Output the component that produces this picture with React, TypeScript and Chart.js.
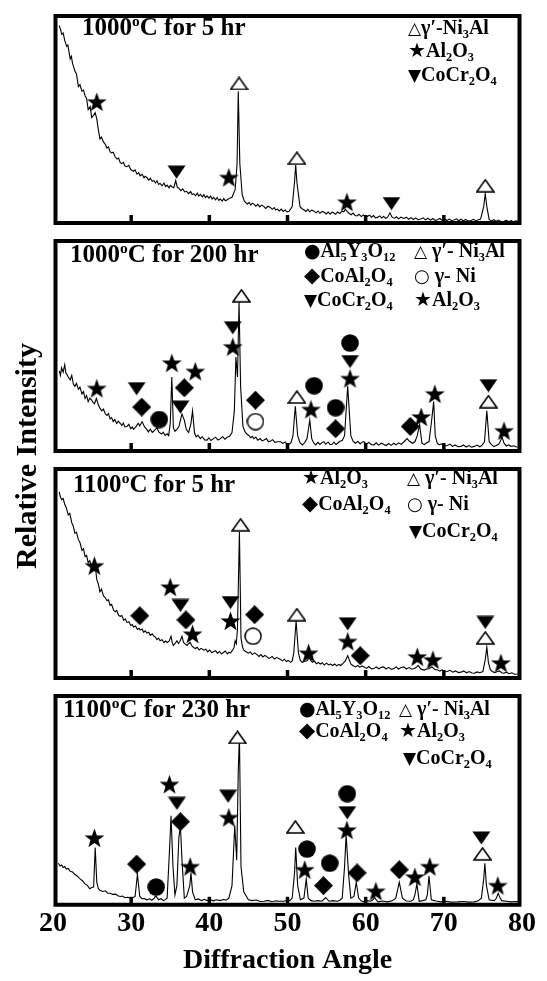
import React, { useEffect, useRef } from 'react';
import { Chart, registerables } from 'chart.js';
Chart.register(...registerables);

// ---------- axis ----------
const xTicks = [20, 30, 40, 50, 60, 70, 80];
const innerTicks = [30, 40, 50, 60, 70];

// ---------- Panel 1: 1000oC for 5 hr  ([angle, relative counts]) ----------
const p1Trace = [[20.8, 95.4], [21.0, 93.0], [21.1, 91.2], [21.3, 91.8], [21.5, 88.2], [21.75, 85.3], [21.9, 86.0], [22.2, 79.3], [22.35, 80.5], [22.5, 77.1], [22.8, 73.4], [23.0, 72.0], [23.25, 65.9], [23.45, 66.8], [23.7, 63.7], [23.9, 64.2], [24.1, 61.5], [24.3, 60.2], [24.5, 54.8], [24.75, 56.3], [24.95, 51.0], [25.2, 52.0], [25.4, 53.3], [25.6, 50.3], [25.8, 45.1], [26.0, 40.6], [26.2, 41.5], [26.45, 39.2], [26.7, 37.9], [26.9, 36.2], [27.1, 36.8], [27.3, 34.5], [27.5, 33.9], [27.7, 34.2], [27.95, 32.0], [28.2, 30.9], [28.4, 31.4], [28.6, 29.2], [28.8, 28.7], [29.0, 29.3], [29.2, 27.5], [29.45, 27.2], [29.7, 27.9], [29.95, 25.8], [30.3, 25.0], [30.5, 25.7], [30.75, 23.6], [30.95, 24.3], [31.15, 22.8], [31.4, 23.5], [31.65, 21.8], [31.8, 22.6], [32.0, 22.0], [32.25, 20.7], [32.45, 21.6], [32.7, 20.1], [32.9, 20.5], [33.1, 19.3], [33.3, 20.4], [33.5, 18.7], [33.7, 19.1], [33.95, 18.0], [34.2, 19.3], [34.4, 17.6], [34.6, 18.3], [34.85, 17.0], [35.0, 18.2], [35.2, 17.5], [35.45, 17.0], [35.7, 20.5], [35.9, 17.2], [36.1, 16.8], [36.35, 15.6], [36.6, 16.5], [36.85, 15.0], [37.1, 15.3], [37.35, 14.2], [37.6, 15.2], [37.8, 13.8], [38.0, 14.1], [38.25, 13.2], [38.45, 14.4], [38.65, 13.0], [38.85, 13.8], [39.1, 12.6], [39.3, 13.7], [39.5, 12.3], [39.7, 13.1], [39.95, 12.0], [40.15, 13.0], [40.35, 11.6], [40.55, 12.4], [40.8, 11.2], [41.0, 12.3], [41.2, 10.9], [41.4, 11.6], [41.65, 10.6], [41.85, 11.8], [42.05, 10.7], [42.3, 11.2], [42.6, 12.0], [42.9, 12.4], [43.3, 16.1], [43.55, 28.7], [43.7, 63.7], [43.9, 28.7], [44.2, 13.8], [44.45, 10.8], [44.6, 10.1], [44.85, 9.2], [45.1, 9.9], [45.3, 8.7], [45.5, 9.6], [45.7, 9.1], [45.95, 8.1], [46.2, 9.0], [46.45, 7.8], [46.7, 8.6], [47.0, 7.9], [47.2, 7.0], [47.5, 8.1], [47.8, 7.5], [48.05, 6.6], [48.3, 7.4], [48.5, 6.3], [48.7, 6.7], [48.95, 5.8], [49.2, 6.7], [49.45, 5.6], [49.7, 6.3], [49.95, 5.4], [50.2, 5.7], [50.6, 7.9], [50.9, 19.8], [51.05, 28.0], [51.2, 19.8], [51.6, 7.9], [51.85, 6.9], [52.1, 6.4], [52.35, 5.6], [52.6, 6.6], [52.85, 5.4], [53.1, 6.2], [53.4, 5.7], [53.65, 4.9], [53.9, 5.8], [54.15, 4.7], [54.45, 5.6], [54.7, 5.2], [54.95, 4.4], [55.2, 5.3], [55.45, 4.3], [55.7, 5.2], [55.9, 4.9], [56.15, 4.2], [56.4, 5.3], [56.7, 4.6], [57.0, 5.7], [57.2, 5.4], [57.4, 6.7], [57.65, 5.5], [57.9, 4.6], [58.15, 4.0], [58.4, 4.8], [58.65, 3.6], [58.9, 3.4], [59.15, 4.2], [59.45, 3.1], [59.7, 3.9], [59.95, 2.9], [60.2, 3.1], [60.5, 3.8], [60.75, 2.8], [61.0, 3.6], [61.25, 2.5], [61.5, 2.7], [61.8, 3.4], [62.05, 2.4], [62.3, 3.2], [62.55, 2.3], [62.8, 2.7], [63.1, 4.9], [63.4, 2.7], [63.7, 2.3], [63.95, 3.0], [64.2, 2.0], [64.5, 2.8], [64.9, 2.2], [65.2, 2.8], [65.5, 1.8], [65.8, 2.6], [66.1, 1.7], [66.4, 2.5], [66.7, 1.6], [67.05, 1.9], [67.35, 2.5], [67.65, 1.5], [67.95, 2.3], [68.3, 1.4], [68.6, 2.2], [68.9, 1.3], [69.2, 1.6], [69.5, 2.2], [69.8, 1.3], [70.1, 2.0], [70.4, 1.2], [70.7, 1.9], [71.0, 1.1], [71.3, 1.5], [71.6, 2.0], [71.9, 1.1], [72.2, 1.8], [72.5, 1.0], [72.8, 1.7], [73.1, 1.0], [73.5, 1.2], [73.8, 1.8], [74.1, 1.0], [74.4, 1.6], [74.7, 1.9], [75.1, 7.9], [75.3, 14.2], [75.5, 7.9], [75.8, 1.6], [76.1, 1.0], [76.4, 1.6], [76.7, 0.8], [77.0, 1.4], [77.3, 0.7], [77.7, 0.8], [78.0, 1.3], [78.3, 0.6], [78.6, 1.2], [78.9, 0.6], [79.2, 1.1], [79.4, 0.8], [79.7, 0.9]];
const p1Ni3Al = [[43.8, 67.4], [51.2, 31.3], [75.3, 18.0]];
const p1Al2O3 = [[25.6, 58.5], [42.5, 22.0], [57.6, 10.1]];
const p1CoCr2O4 = [[35.8, 24.6], [63.3, 9.4]];

// ---------- Panel 2: 1000oC for 200 hr ----------
const p2Trace = [[20.8, 38.2], [20.95, 36.0], [21.1, 39.6], [21.3, 37.5], [21.5, 41.1], [21.65, 37.0], [21.75, 36.7], [21.95, 35.2], [22.2, 33.8], [22.4, 36.0], [22.6, 31.9], [22.8, 30.8], [23.0, 32.2], [23.25, 29.4], [23.45, 30.5], [23.7, 27.2], [23.9, 28.3], [24.1, 25.0], [24.3, 26.4], [24.5, 23.5], [24.7, 25.1], [24.95, 24.2], [25.15, 23.0], [25.3, 22.5], [25.55, 25.0], [25.8, 22.0], [26.0, 20.4], [26.25, 19.1], [26.45, 20.0], [26.7, 17.6], [26.9, 16.9], [27.1, 17.8], [27.3, 15.3], [27.5, 15.9], [27.7, 14.0], [27.9, 15.0], [28.15, 13.1], [28.35, 14.2], [28.6, 13.2], [28.8, 12.1], [29.0, 13.3], [29.2, 11.5], [29.45, 11.7], [29.7, 12.7], [29.95, 10.6], [30.15, 11.4], [30.3, 10.3], [30.6, 11.5], [30.9, 13.2], [31.1, 12.0], [31.4, 14.0], [31.7, 11.6], [32.0, 10.3], [32.2, 9.1], [32.45, 10.4], [32.7, 8.9], [32.9, 9.5], [33.1, 10.3], [33.3, 11.0], [33.55, 9.0], [33.9, 8.1], [34.1, 9.0], [34.35, 7.4], [34.6, 8.2], [34.8, 7.3], [35.0, 13.2], [35.2, 35.2], [35.4, 11.0], [35.6, 9.4], [35.85, 10.3], [36.1, 11.5], [36.3, 14.7], [36.5, 17.6], [36.8, 14.7], [37.05, 10.3], [37.35, 8.8], [37.65, 13.2], [37.85, 19.1], [38.1, 8.8], [38.3, 6.7], [38.55, 7.5], [38.85, 5.9], [39.1, 6.8], [39.4, 5.3], [39.7, 5.2], [39.95, 6.3], [40.2, 5.0], [40.55, 5.9], [40.8, 6.6], [41.1, 5.2], [41.4, 5.9], [41.7, 6.8], [42.0, 5.6], [42.3, 6.6], [42.6, 7.0], [42.9, 8.8], [43.2, 19.1], [43.4, 44.8], [43.6, 35.2], [43.8, 71.2], [44.0, 30.8], [44.3, 11.7], [44.55, 9.2], [44.8, 8.1], [45.05, 7.4], [45.3, 6.3], [45.5, 7.0], [45.7, 5.9], [45.95, 6.6], [46.2, 5.1], [46.5, 5.9], [46.75, 4.8], [47.0, 5.2], [47.3, 5.9], [47.55, 4.5], [47.8, 4.6], [48.1, 5.4], [48.4, 4.1], [48.7, 4.4], [49.1, 4.4], [49.4, 3.6], [49.7, 4.3], [49.95, 3.3], [50.2, 3.2], [50.45, 4.0], [50.7, 7.3], [51.0, 21.3], [51.3, 7.3], [51.6, 4.0], [51.9, 2.9], [52.2, 4.0], [52.5, 5.9], [52.85, 14.7], [53.1, 5.9], [53.35, 3.8], [53.6, 2.9], [53.9, 4.1], [54.15, 3.1], [54.4, 4.0], [54.65, 4.4], [54.9, 3.2], [55.2, 4.3], [55.45, 3.0], [55.7, 3.2], [55.95, 4.2], [56.2, 3.1], [56.4, 3.7], [56.7, 4.6], [57.0, 5.0], [57.3, 7.3], [57.7, 30.8], [58.1, 7.3], [58.4, 4.6], [58.7, 3.7], [59.0, 4.6], [59.3, 3.4], [59.55, 4.3], [59.8, 4.4], [60.1, 3.2], [60.4, 4.1], [60.75, 3.0], [61.05, 2.9], [61.35, 3.9], [61.65, 2.8], [62.0, 3.7], [62.3, 3.2], [62.6, 2.6], [62.95, 3.6], [63.25, 2.7], [63.6, 3.7], [63.9, 2.9], [64.2, 3.9], [64.55, 3.2], [64.9, 4.4], [65.3, 5.9], [65.6, 4.6], [66.0, 3.7], [66.3, 4.4], [66.6, 7.3], [66.9, 12.5], [67.2, 3.7], [67.5, 3.0], [67.8, 3.9], [68.1, 4.4], [68.4, 13.2], [68.7, 23.5], [68.9, 7.3], [69.15, 3.8], [69.4, 2.9], [69.7, 3.4], [70.0, 2.4], [70.45, 2.6], [70.8, 3.3], [71.1, 2.2], [71.45, 2.9], [71.8, 2.0], [72.2, 2.2], [72.5, 2.9], [72.85, 1.9], [73.2, 2.6], [73.55, 1.8], [73.9, 2.2], [74.25, 2.8], [74.6, 2.0], [74.9, 2.8], [75.2, 4.4], [75.5, 19.1], [75.8, 4.4], [76.1, 3.0], [76.4, 2.1], [76.7, 2.6], [77.0, 3.2], [77.2, 4.4], [77.45, 6.6], [77.7, 3.7], [78.0, 2.4], [78.3, 2.9], [78.6, 2.2], [78.95, 2.5], [79.3, 1.9], [79.7, 1.8]];
const p2Al5Y3O12 = [[33.6, 15.0], [53.4, 31.1], [56.15, 20.6], [58.0, 51.4]];
const p2CoAl2O4 = [[31.35, 20.9], [36.8, 30.1], [45.9, 24.2], [56.15, 10.6], [65.7, 11.7]];
const p2CoCr2O4 = [[30.7, 29.7], [36.3, 20.9], [43.0, 58.7], [58.0, 42.6], [75.7, 31.1]];
const p2Ni3Al = [[44.1, 73.9], [51.2, 25.7], [75.7, 23.5]];
const p2Ni = [[45.9, 14.0]];
const p2Al2O3 = [[25.6, 29.8], [35.2, 41.9], [38.2, 37.9], [43.0, 49.6], [53.0, 19.8], [58.0, 34.5], [67.1, 16.2], [68.85, 27.2], [77.7, 9.6]];

// ---------- Panel 3: 1100oC for 5 hr ----------
const p3Trace = [[20.8, 89.0], [20.95, 86.6], [21.1, 85.3], [21.3, 85.9], [21.5, 83.1], [21.7, 81.5], [21.95, 78.0], [22.15, 78.8], [22.4, 74.3], [22.6, 72.6], [22.8, 69.2], [23.0, 69.8], [23.25, 66.2], [23.45, 64.8], [23.7, 61.1], [23.9, 61.9], [24.1, 58.1], [24.3, 58.6], [24.5, 55.2], [24.7, 56.1], [24.95, 53.0], [25.15, 54.0], [25.3, 51.5], [25.45, 52.3], [25.6, 47.1], [25.8, 45.0], [26.0, 41.3], [26.2, 42.5], [26.45, 39.4], [26.7, 38.3], [26.9, 37.1], [27.1, 37.4], [27.3, 34.7], [27.5, 35.2], [27.75, 32.4], [27.95, 31.7], [28.15, 32.3], [28.4, 30.0], [28.6, 29.5], [28.8, 29.9], [29.05, 27.6], [29.25, 28.3], [29.45, 26.6], [29.7, 26.9], [29.95, 25.1], [30.15, 25.6], [30.3, 24.4], [30.55, 24.9], [30.8, 23.2], [31.0, 23.8], [31.15, 22.9], [31.4, 23.4], [31.6, 21.9], [31.8, 22.6], [32.0, 21.5], [32.25, 21.9], [32.45, 20.4], [32.7, 21.1], [32.9, 20.0], [33.1, 19.5], [33.3, 18.4], [33.5, 19.1], [33.7, 17.8], [33.95, 18.3], [34.2, 16.9], [34.4, 17.7], [34.6, 17.0], [34.85, 17.6], [35.1, 20.0], [35.25, 17.0], [35.4, 15.6], [35.6, 16.4], [35.85, 17.8], [36.05, 16.5], [36.25, 17.6], [36.5, 20.0], [36.7, 17.0], [36.9, 16.3], [37.15, 15.6], [37.35, 16.4], [37.55, 17.0], [37.8, 15.2], [38.0, 14.6], [38.2, 14.1], [38.45, 14.7], [38.7, 13.4], [38.95, 14.2], [39.3, 13.3], [39.55, 13.8], [39.8, 12.5], [40.05, 13.4], [40.3, 12.2], [40.55, 12.6], [40.8, 13.1], [41.05, 11.8], [41.3, 12.7], [41.55, 11.6], [41.8, 12.2], [42.05, 12.9], [42.3, 11.5], [42.5, 12.3], [42.7, 11.9], [42.95, 13.2], [43.15, 14.5], [43.3, 17.8], [43.45, 16.4], [43.6, 23.7], [43.85, 69.9], [44.05, 19.2], [44.25, 14.8], [44.4, 13.3], [44.7, 12.6], [45.0, 11.9], [45.25, 12.5], [45.5, 11.2], [45.8, 12.0], [46.1, 11.2], [46.35, 10.3], [46.6, 11.2], [46.85, 10.1], [47.1, 10.8], [47.4, 10.1], [47.6, 9.4], [47.8, 9.7], [48.05, 10.3], [48.3, 9.1], [48.6, 9.8], [48.9, 9.3], [49.1, 8.9], [49.35, 8.2], [49.6, 9.0], [49.85, 7.9], [50.1, 8.4], [50.4, 7.5], [50.6, 8.2], [50.8, 11.9], [51.1, 27.3], [51.4, 11.9], [51.65, 8.3], [51.9, 7.5], [52.2, 8.0], [52.5, 8.2], [52.8, 9.7], [53.0, 8.3], [53.2, 7.5], [53.45, 8.1], [53.7, 6.8], [53.95, 7.4], [54.2, 6.7], [54.45, 7.3], [54.7, 6.2], [55.0, 7.1], [55.25, 6.3], [55.5, 6.7], [55.8, 6.0], [56.05, 6.7], [56.3, 5.8], [56.55, 6.5], [56.8, 6.0], [57.1, 7.0], [57.4, 8.2], [57.7, 10.7], [58.1, 6.7], [58.4, 5.9], [58.7, 5.3], [59.0, 6.0], [59.25, 5.1], [59.5, 5.8], [59.8, 5.3], [60.1, 4.6], [60.4, 5.5], [60.75, 4.3], [61.05, 4.5], [61.35, 5.3], [61.7, 4.4], [62.0, 5.1], [62.3, 5.3], [62.6, 4.3], [62.95, 5.1], [63.3, 4.1], [63.6, 4.5], [63.9, 5.3], [64.2, 4.3], [64.55, 5.0], [64.9, 5.3], [65.2, 4.3], [65.55, 5.0], [65.9, 4.2], [66.2, 4.5], [66.45, 5.0], [66.7, 6.0], [67.0, 4.5], [67.25, 4.0], [67.5, 3.8], [67.8, 4.3], [68.1, 4.4], [68.3, 4.9], [68.5, 5.3], [68.8, 4.2], [69.2, 3.8], [69.5, 3.3], [69.8, 3.9], [70.1, 3.0], [70.45, 3.1], [70.8, 3.7], [71.15, 2.8], [71.5, 3.4], [71.85, 2.6], [72.2, 2.8], [72.55, 3.4], [72.9, 2.5], [73.25, 3.1], [73.6, 2.4], [73.9, 2.3], [74.25, 2.9], [74.6, 2.5], [75.0, 3.1], [75.3, 8.9], [75.5, 14.8], [75.7, 7.5], [75.95, 4.0], [76.2, 3.1], [76.5, 2.6], [76.8, 3.0], [77.1, 3.4], [77.4, 2.5], [77.7, 2.3], [78.0, 2.8], [78.35, 2.0], [78.7, 2.5], [79.05, 1.8], [79.4, 1.9], [79.7, 2.1]];
const p3Al2O3 = [[25.3, 53.7], [35.0, 43.5], [37.85, 21.0], [42.7, 27.3], [52.7, 11.9], [57.7, 17.5], [66.6, 10.1], [68.6, 8.7], [77.3, 7.2]];
const p3CoAl2O4 = [[31.1, 29.8], [37.0, 27.8], [45.8, 30.3], [59.3, 10.7]];
const p3CoCr2O4 = [[36.3, 34.7], [42.7, 36.1], [57.7, 25.9], [75.3, 26.6]];
const p3Ni3Al = [[44.0, 73.3], [51.2, 30.3], [75.3, 19.2]];
const p3Ni = [[45.6, 20.0]];

// ---------- Panel 4: 1100oC for 230 hr ----------
const p4Trace = [[20.7, 19.9], [20.9, 18.6], [21.1, 19.1], [21.3, 17.9], [21.5, 18.3], [21.7, 17.1], [21.95, 17.4], [22.2, 16.0], [22.5, 15.7], [22.8, 14.5], [23.1, 13.8], [23.3, 13.0], [23.5, 12.3], [23.8, 11.4], [24.1, 10.0], [24.4, 9.3], [24.7, 7.7], [24.95, 8.3], [25.2, 8.5], [25.4, 27.4], [25.6, 10.8], [25.8, 7.8], [26.0, 7.0], [26.35, 6.4], [26.7, 6.7], [27.0, 5.6], [27.3, 5.5], [27.65, 5.0], [28.0, 5.1], [28.3, 4.3], [28.6, 4.0], [28.9, 4.2], [29.2, 3.4], [29.55, 3.6], [29.9, 3.2], [30.2, 3.4], [30.5, 4.0], [30.8, 14.5], [31.1, 4.0], [31.4, 2.9], [31.7, 3.0], [32.0, 2.4], [32.35, 2.9], [32.65, 2.2], [32.95, 3.2], [33.15, 4.4], [33.5, 2.4], [33.8, 2.9], [34.15, 2.0], [34.4, 2.6], [34.6, 3.2], [34.9, 25.9], [35.1, 42.6], [35.35, 18.3], [35.6, 4.7], [35.85, 9.2], [36.1, 32.0], [36.3, 38.0], [36.5, 21.4], [36.8, 3.2], [37.1, 4.0], [37.5, 9.2], [37.65, 15.3], [37.85, 6.2], [38.2, 2.4], [38.6, 2.8], [39.0, 2.0], [39.35, 2.6], [39.7, 2.0], [40.1, 2.5], [40.5, 1.9], [40.9, 2.4], [41.4, 2.0], [41.8, 2.5], [42.2, 2.3], [42.5, 3.2], [42.9, 9.2], [43.25, 38.0], [43.5, 21.4], [43.7, 63.8], [43.85, 81.2], [44.05, 18.3], [44.4, 6.2], [45.0, 2.4], [45.5, 2.0], [46.0, 2.3], [46.5, 1.6], [47.0, 1.7], [47.5, 2.1], [48.0, 1.5], [48.5, 1.9], [48.9, 1.7], [49.5, 1.7], [50.0, 2.2], [50.3, 2.0], [50.6, 3.2], [50.9, 15.3], [51.05, 27.4], [51.3, 9.2], [51.65, 2.4], [52.1, 3.2], [52.4, 12.3], [52.65, 3.2], [53.0, 2.0], [53.4, 1.7], [53.9, 2.0], [54.4, 1.7], [54.9, 3.5], [55.3, 1.7], [55.8, 2.0], [56.4, 1.7], [56.7, 2.2], [57.0, 3.2], [57.3, 18.3], [57.5, 33.5], [57.8, 15.3], [58.1, 3.2], [58.5, 4.0], [58.8, 10.8], [59.1, 3.2], [59.45, 1.8], [59.8, 1.4], [60.2, 2.0], [60.6, 1.7], [60.9, 2.3], [61.15, 3.5], [61.35, 2.3], [61.6, 1.4], [62.2, 1.8], [62.8, 1.4], [63.4, 1.9], [63.85, 3.2], [64.3, 10.8], [64.7, 3.2], [65.2, 1.8], [65.8, 1.7], [66.1, 2.5], [66.3, 4.7], [66.55, 10.0], [66.85, 1.7], [67.3, 2.0], [67.7, 2.4], [67.9, 5.0], [68.1, 13.8], [68.4, 2.4], [69.0, 1.8], [69.6, 1.4], [70.2, 1.7], [70.9, 1.3], [71.75, 1.4], [72.5, 1.6], [73.2, 1.3], [73.9, 1.4], [74.4, 1.9], [74.8, 3.2], [75.1, 12.3], [75.25, 19.9], [75.45, 9.2], [75.8, 2.4], [76.2, 2.1], [76.45, 2.0], [76.7, 3.0], [76.95, 5.5], [77.2, 3.2], [77.4, 2.0], [78.0, 1.7], [78.6, 1.4], [79.2, 1.6], [79.7, 1.4]];
const p4Al2O3 = [[25.3, 32.0], [34.9, 57.7], [37.55, 18.3], [42.5, 41.8], [52.2, 16.8], [57.6, 35.8], [61.3, 6.5], [66.3, 13.3], [68.2, 18.3], [76.9, 9.2]];
const p4CoAl2O4 = [[30.7, 19.5], [36.3, 39.8], [54.6, 9.2], [58.9, 15.3], [64.3, 16.8]];
const p4CoCr2O4 = [[35.85, 48.6], [42.4, 52.0], [57.65, 44.1], [74.8, 32.0]];
const p4Ni3Al = [[43.6, 80.2], [51.0, 37.3], [74.95, 24.4]];
const p4Al5Y3O12 = [[33.2, 8.5], [52.5, 26.7], [55.4, 19.9], [57.65, 53.2]];

const SERIF = "'Liberation Serif', 'Times New Roman', 'DejaVu Serif', serif";

// ---------- marker images ----------
const markerCache: Record<string, HTMLCanvasElement> = {};
function markerImage(kind: string): HTMLCanvasElement {
  if (markerCache[kind]) return markerCache[kind];
  const c = document.createElement('canvas');
  let w = 19, h = 19;
  if (kind === 'triUp' || kind === 'triDown') { w = 19; h = 14; }
  if (kind === 'star') { w = 21; h = 20; }
  if (kind === 'dot' || kind === 'ring') { w = 18; h = 18; }
  c.width = w; c.height = h;
  const g = c.getContext('2d')!;
  g.fillStyle = '#000';
  g.strokeStyle = '#000';
  g.lineWidth = 1.5;
  g.beginPath();
  if (kind === 'star') {
    const cx = w / 2, cy = 10.8, R = 10.4, r = 4.2;
    for (let i = 0; i < 10; i++) {
      const a = -Math.PI / 2 + (i * Math.PI) / 5;
      const rad = i % 2 === 0 ? R : r;
      const px = cx + rad * Math.cos(a), py = cy + rad * Math.sin(a);
      if (i === 0) g.moveTo(px, py); else g.lineTo(px, py);
    }
    g.closePath(); g.fill();
  } else if (kind === 'triDown') {
    g.moveTo(0.5, 0.5); g.lineTo(w - 0.5, 0.5); g.lineTo(w / 2, h - 0.5); g.closePath(); g.fill();
  } else if (kind === 'triUp') {
    g.moveTo(w / 2, 1); g.lineTo(w - 1, h - 1); g.lineTo(1, h - 1); g.closePath();
    g.fillStyle = '#fff'; g.fill(); g.stroke();
  } else if (kind === 'dot') {
    g.arc(w / 2, h / 2, 8.8, 0, Math.PI * 2); g.fill();
  } else if (kind === 'ring') {
    g.arc(w / 2, h / 2, 8, 0, Math.PI * 2); g.fillStyle = '#fff'; g.fill(); g.stroke();
  } else if (kind === 'diamond') {
    g.moveTo(w / 2, 0); g.lineTo(w, h / 2); g.lineTo(w / 2, h); g.lineTo(0, h / 2); g.closePath(); g.fill();
  }
  markerCache[kind] = c;
  return c;
}

const framePlugin = {
  id: 'xrdFrame',
  afterDatasetsDraw(chart: any) {
    const { ctx, chartArea: a, scales } = chart;
    const xs = scales.x;
    ctx.save();
    ctx.strokeStyle = '#000';
    ctx.lineWidth = 3.5;
    for (const v of innerTicks) {
      const px = xs.getPixelForValue(v);
      ctx.beginPath();
      ctx.moveTo(px, a.bottom);
      ctx.lineTo(px, a.bottom - 8);
      ctx.stroke();
    }
    ctx.lineWidth = 4;
    ctx.beginPath();
    ctx.rect(a.left + 2.5, a.top, a.right - a.left - 5, a.bottom - a.top);
    ctx.stroke();
    ctx.restore();
  },
};

type MarkerSet = { kind: string; pts: number[][] };

function XrdPanel(props: { top: number; height: number; trace: number[][]; markers: MarkerSet[]; last?: boolean }) {
  const { top, height, trace, markers, last } = props;
  const ref = useRef<HTMLCanvasElement>(null);
  const canvasTop = top - 2;
  const canvasH = last ? 981 - canvasTop : height + 4;
  useEffect(() => {
    if (!ref.current) return;
    const datasets: any[] = [
      {
        data: trace.map(([x, y]) => ({ x, y })),
        showLine: true,
        borderColor: '#000',
        borderWidth: 1.1,
        pointRadius: 0,
        tension: 0,
        order: 2,
      },
      ...markers.map((m) => ({
        data: m.pts.map(([x, y]) => ({ x, y })),
        showLine: false,
        pointStyle: markerImage(m.kind),
        pointRadius: 10,
        order: 1,
      })),
    ];
    const chart = new Chart(ref.current, {
      type: 'scatter',
      data: { datasets },
      options: {
        animation: false,
        responsive: false,
        maintainAspectRatio: false,
        devicePixelRatio: 1,
        events: [],
        layout: { padding: { left: 53, right: 25, top: 2, bottom: last ? 0 : 2 } },
        plugins: { legend: { display: false }, tooltip: { enabled: false } },
        scales: {
          x: {
            type: 'linear',
            min: 20,
            max: 80,
            display: !!last,
            afterBuildTicks: (s: any) => { s.ticks = xTicks.map((v) => ({ value: v })); },
            ticks: {
              color: '#000',
              padding: 2,
              maxRotation: 0,
              autoSkip: false,
              font: { family: SERIF, size: 28, weight: 'bold' },
            },
            grid: { display: false, drawTicks: false },
            border: { display: false },
            title: {
              display: true,
              text: 'Diffraction Angle',
              color: '#000',
              font: { family: SERIF, size: 28, weight: 'bold' },
              padding: { top: 2, bottom: 3 },
            },
          },
          y: { min: 0, max: 100, display: false },
        },
      } as any,
      plugins: [framePlugin],
    });
    return () => chart.destroy();
  }, []);
  return (
    <canvas
      ref={ref}
      width={547}
      height={canvasH}
      style={{ position: 'absolute', left: 0, top: canvasTop, width: 547, height: canvasH }}
    />
  );
}

function chem(s: string) {
  const out: any[] = [];
  let buf = '';
  let i = 0;
  let k = 0;
  while (i < s.length) {
    const c = s[i];
    if (c === '_' || c === '^') {
      if (buf) { out.push(buf); buf = ''; }
      let t = '';
      if (s[i + 1] === '{') {
        const j = s.indexOf('}', i);
        t = s.slice(i + 2, j);
        i = j + 1;
      } else {
        t = s[i + 1];
        i += 2;
      }
      out.push(
        <span key={k++} style={{ fontSize: '0.62em', position: 'relative', top: c === '_' ? '0.3em' : '-0.6em' }}>{t}</span>
      );
    } else {
      buf += c;
      i++;
    }
  }
  if (buf) out.push(buf);
  return out;
}

const symSize: Record<string, number> = { '△': 17, '▼': 17, '★': 20, '●': 19, '◆': 21, '○': 18 };

function TextAt(props: { x: number; base: number; size: number; sym?: string; text: string }) {
  const { x, base, size, sym, text } = props;
  return (
    <div
      style={{
        position: 'absolute',
        left: x,
        top: base - 0.8375 * size,
        fontFamily: SERIF,
        fontWeight: 'bold',
        fontSize: size,
        lineHeight: `${size}px`,
        whiteSpace: 'nowrap',
        color: '#000',
      }}
    >
      {sym ? (
        <span style={{ fontFamily: "'DejaVu Sans', sans-serif", fontWeight: 'normal', fontSize: symSize[sym] || 17 }}>{sym}</span>
      ) : null}
      {chem(text)}
    </div>
  );
}

const titles = [
  { x: 82, base: 35, text: '1000^oC for 5 hr' },
  { x: 70, base: 262, text: '1000^oC for 200 hr' },
  { x: 73, base: 492, text: '1100^oC for 5 hr' },
  { x: 63, base: 717, text: '1100^oC for 230 hr' },
];

const legendItems = [
  { x: 408, base: 34, sym: '△', text: 'γ′-Ni_3Al' },
  { x: 408, base: 57, sym: '★', text: 'Al_2O_3' },
  { x: 408, base: 81, sym: '▼', text: 'CoCr_2O_4' },

  { x: 304, base: 257, sym: '●', text: 'Al_5Y_3O_{12}' },
  { x: 304, base: 282, sym: '◆', text: 'CoAl_2O_4' },
  { x: 304, base: 306, sym: '▼', text: 'CoCr_2O_4' },
  { x: 414, base: 257, sym: '△', text: ' γ′- Ni_3Al' },
  { x: 414, base: 282, sym: '○', text: ' γ- Ni' },
  { x: 414, base: 306, sym: '★', text: 'Al_2O_3' },

  { x: 302, base: 484, sym: '★', text: 'Al_2O_3' },
  { x: 302, base: 510, sym: '◆', text: 'CoAl_2O_4' },
  { x: 407, base: 484, sym: '△', text: ' γ′- Ni_3Al' },
  { x: 407, base: 510, sym: '○', text: ' γ- Ni' },
  { x: 409, base: 537, sym: '▼', text: 'CoCr_2O_4' },

  { x: 299, base: 715, sym: '●', text: 'Al_5Y_3O_{12}' },
  { x: 299, base: 737, sym: '◆', text: 'CoAl_2O_4' },
  { x: 399, base: 715, sym: '△', text: ' γ′- Ni_3Al' },
  { x: 399, base: 737, sym: '★', text: 'Al_2O_3' },
  { x: 403, base: 764, sym: '▼', text: 'CoCr_2O_4' },
];

export default function App() {
  return (
    <div style={{ position: 'absolute', left: 0, top: 0, width: 547, height: 981, background: '#fff', overflow: 'hidden' }}>
      <XrdPanel
        top={7}
        height={225}
        trace={p1Trace}
        markers={[
          { kind: 'triUp', pts: p1Ni3Al },
          { kind: 'star', pts: p1Al2O3 },
          { kind: 'triDown', pts: p1CoCr2O4 },
        ]}
      />
      <XrdPanel
        top={232}
        height={228}
        trace={p2Trace}
        markers={[
          { kind: 'dot', pts: p2Al5Y3O12 },
          { kind: 'diamond', pts: p2CoAl2O4 },
          { kind: 'triDown', pts: p2CoCr2O4 },
          { kind: 'triUp', pts: p2Ni3Al },
          { kind: 'ring', pts: p2Ni },
          { kind: 'star', pts: p2Al2O3 },
        ]}
      />
      <XrdPanel
        top={460}
        height={227}
        trace={p3Trace}
        markers={[
          { kind: 'star', pts: p3Al2O3 },
          { kind: 'diamond', pts: p3CoAl2O4 },
          { kind: 'triDown', pts: p3CoCr2O4 },
          { kind: 'triUp', pts: p3Ni3Al },
          { kind: 'ring', pts: p3Ni },
        ]}
      />
      <XrdPanel
        top={687}
        height={220}
        last
        trace={p4Trace}
        markers={[
          { kind: 'star', pts: p4Al2O3 },
          { kind: 'diamond', pts: p4CoAl2O4 },
          { kind: 'triDown', pts: p4CoCr2O4 },
          { kind: 'triUp', pts: p4Ni3Al },
          { kind: 'dot', pts: p4Al5Y3O12 },
        ]}
      />
      {titles.map((t, i) => (
        <TextAt key={'t' + i} x={t.x} base={t.base} size={25} text={t.text} />
      ))}
      {legendItems.map((t, i) => (
        <TextAt key={'l' + i} x={t.x} base={t.base} size={20} sym={t.sym} text={t.text} />
      ))}
      <div
        style={{
          position: 'absolute',
          left: 26 - 150,
          top: 456 - 18,
          width: 300,
          height: 36,
          lineHeight: '36px',
          textAlign: 'center',
          fontFamily: SERIF,
          fontWeight: 'bold',
          fontSize: 30,
          color: '#000',
          transform: 'rotate(-90deg)',
          transformOrigin: '50% 50%',
          whiteSpace: 'nowrap',
        }}
      >
        Relative Intensity
      </div>
    </div>
  );
}
